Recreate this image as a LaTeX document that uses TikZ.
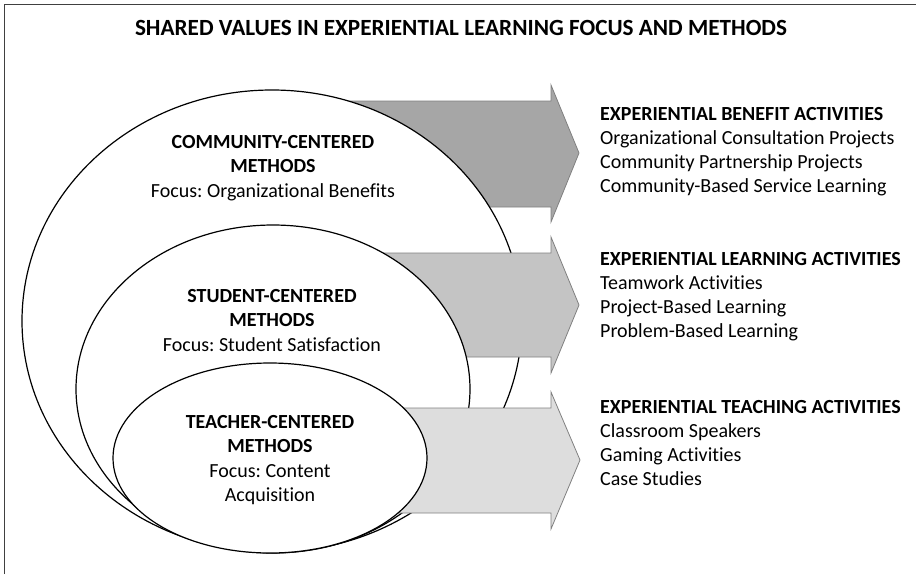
\documentclass[tikz,border=0pt]{standalone}
\usepackage{fontspec}
\setmainfont{Carlito}[Ligatures=NoCommon]
\frenchspacing
\definecolor{arrowdark}{HTML}{A6A6A6}
\definecolor{arrowmid}{HTML}{C4C4C4}
\definecolor{arrowlight}{HTML}{DDDDDD}
\tikzset{
    frame line/.style ={draw=black!75, line width=1pt},
    ring/.style ={draw=black, line width=1.2pt, fill=white},
    flow arrow/.style ={draw=black!50, line width=0.8pt},
    ring text/.style ={align=center, anchor=north, inner sep=0pt, font=\fontsize{20}{24.5}\selectfont},
    list text/.style ={align=left, anchor=north west, inner sep=0pt, font=\fontsize{20}{24.2}\selectfont}
}

\begin{document}
\begin{tikzpicture}[x=1pt,y=-1pt]
        \useasboundingbox (0,0) rectangle (916,574);
        \draw[frame line] (4,574) -- (4,4) -- (916,4);
        \node[anchor=north, inner sep=0pt, font=\bfseries\fontsize{23.2}{28}\selectfont] (title) at (461,20)
            {SHARED VALUES IN EXPERIENTIAL LEARNING FOCUS AND METHODS};
        % arrows and rings, back to front
        \filldraw[flow arrow, fill=arrowdark] (300,101) -- (551,101) -- (551,85) -- (579,153)
            -- (551,222) -- (551,207) -- (300,207) -- cycle;
        \filldraw[ring] (272,321) ellipse [x radius=250pt, y radius=231pt];
        \filldraw[flow arrow, fill=arrowmid] (300,253) -- (551,253) -- (551,237) -- (579,305)
            -- (551,373) -- (551,357) -- (300,357) -- cycle;
        \filldraw[ring] (273,389) ellipse [x radius=197pt, y radius=164pt];
        \filldraw[flow arrow, fill=arrowlight] (300,408) -- (551,408) -- (551,392) -- (580,460)
            -- (551,529) -- (551,513) -- (300,513) -- cycle;
        \filldraw[ring] (270,458) ellipse [x radius=157pt, y radius=95pt];
        % ring labels
        \node[ring text] (community) at (273,135)
            {\textbf{COMMUNITY-CENTERED}\\ \textbf{METHODS}\\ Focus: Organizational Benefits};
        \node[ring text] (student) at (272,289)
            {\textbf{STUDENT-CENTERED}\\ \textbf{METHODS}\\ Focus: Student Satisfaction};
        \node[ring text] (teacher) at (270,415)
            {\textbf{TEACHER-CENTERED}\\ \textbf{METHODS}\\ Focus: Content\\ Acquisition};
        % activity lists
        \node[list text] (benefit) at (600,107)
            {\textbf{EXPERIENTIAL BENEFIT ACTIVITIES}\\ Organizational Consultation Projects\\
             Community Partnership Projects\\ Community-Based Service Learning};
        \node[list text] (learning) at (600,252)
            {\textbf{EXPERIENTIAL LEARNING ACTIVITIES}\\ Teamwork Activities\\
             Project-Based Learning\\ Problem-Based Learning};
        \node[list text] (teaching) at (600,400)
            {\textbf{EXPERIENTIAL TEACHING ACTIVITIES}\\ Classroom Speakers\\
             Gaming Activities\\ Case Studies};
\end{tikzpicture}
\end{document}
